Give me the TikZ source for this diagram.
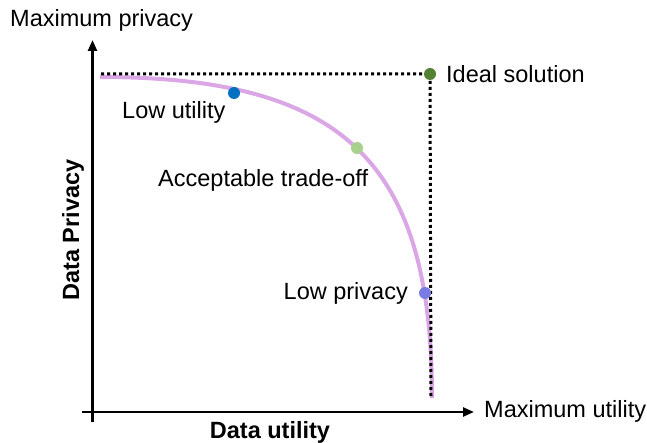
\documentclass[tikz,border=0pt]{standalone}
\usepackage{fontspec}
\setmainfont{Liberation Sans}
\usetikzlibrary{arrows.meta}
\definecolor{frontier}{RGB}{218,166,230}
\definecolor{lowutil}{RGB}{0,112,192}
\definecolor{tradeoff}{RGB}{169,209,142}
\definecolor{lowpriv}{RGB}{123,123,228}
\definecolor{ideal}{RGB}{84,130,53}

\begin{document}
\begin{tikzpicture}[x=1pt, y=-1pt, font=\fontsize{23.5}{28}\selectfont,
	axis/.style={line width=2.4pt, -{Triangle[length=11pt, width=9pt]}},
	dot/.style={circle, inner sep=0pt, minimum size=12pt},
	lbl/.style={inner sep=0pt}]
	%%%%% START %%%%%
	
	\useasboundingbox (0, 0) rectangle (647, 443);
	
	% axes
	\coordinate (ybase) at (92.5, 422);
	\coordinate (xbase) at (82, 412);
	\coordinate (ytip) at (92.5, 40);
	\coordinate (xtip) at (474, 412);
	\draw[axis] (ybase) -- (ytip);
	\draw[axis] (xbase) -- (xtip);
	\node[lbl, anchor=base west] (maxpriv) at (10, 27) {Maximum privacy};
	\node[lbl, anchor=base west] (maxutil) at (484, 417) {Maximum utility};
	\node[lbl, font=\fontsize{23.5}{28}\selectfont\bfseries, anchor=base] (xlab) at (270, 438) {Data utility};
	\node[lbl, font=\fontsize{23.5}{28}\selectfont\bfseries, rotate=90, anchor=base] (ylab) at (79, 230) {Data Privacy};
	
	% frontier curve
	\coordinate (frontstart) at (100, 77);
	\coordinate (frontend) at (432, 398);
	\draw[line width=4pt, color=frontier] (frontstart) .. controls (344, 77) and (432, 162) .. (frontend);
	
	% ideal point and its bounds
	\coordinate (idealxy) at (430, 74);
	\coordinate (topleft) at (101, 74);
	\coordinate (bottomright) at (431, 398);
	\draw[line width=3pt, dash pattern=on 3pt off 3pt] (topleft) -- (idealxy) -- (bottomright);
	\node[dot, fill=ideal] (idealpt) at (idealxy) {};
	\node[lbl, anchor=west] (ideallbl) at (446, 74) {Ideal solution};
	
	% points on the curve
	\node[dot, fill=lowutil] (lowutilpt) at (234, 93) {};
	\node[dot, fill=tradeoff] (tradeoffpt) at (357, 148) {};
	\node[dot, fill=lowpriv] (lowprivpt) at (425, 293) {};
	\node[lbl, anchor=west] (lowutillbl) at (122, 112) {Low utility};
	\node[lbl, anchor=west] (tradeofflbl) at (158, 180) {Acceptable trade-off};
	\node[lbl, anchor=east] (lowprivlbl) at (408, 293) {Low privacy};
	
	%%%%% END %%%%%
\end{tikzpicture}
\end{document}
